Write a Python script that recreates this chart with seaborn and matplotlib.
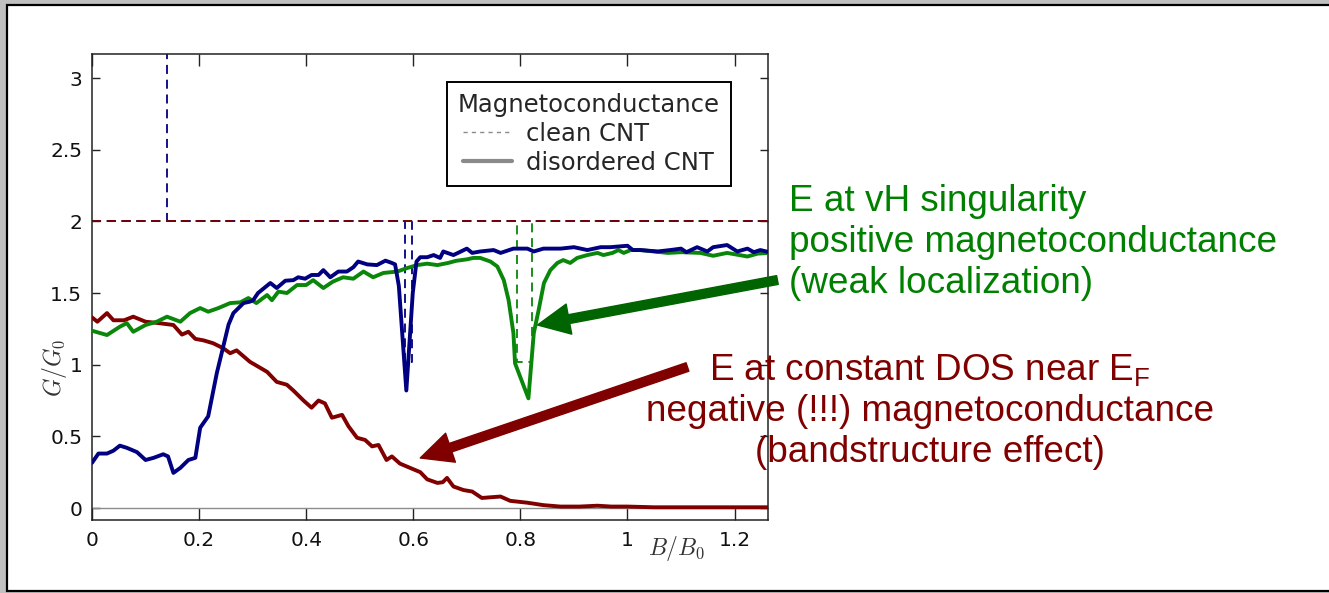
import matplotlib
matplotlib.use("Agg")
import matplotlib.pyplot as plt
from matplotlib.lines import Line2D
from matplotlib.patches import Rectangle
import seaborn as sns

# ---- data -------------------------------------------------------------
# clean nanotube (dashed): conductance in units of G0 versus B/B0
# (segment ids split a curve into separately drawn pieces)
clean_red_x = [0.0, 1.265]
clean_red_y = [2.0, 2.0]
clean_red_seg = [0, 0]
clean_blue_x = [0.0, 0.1396, 0.1396, 0.1396, 0.585, 0.585, 0.597, 0.597, 1.265]
clean_blue_y = [2.0, 2.0, 10.0, 2.0, 2.0, 1.02, 1.02, 2.0, 2.0]
clean_blue_seg = [0, 0, 0, 1, 1, 1, 1, 1, 1]
clean_green_x = [0.0, 0.793, 0.793, 0.822, 0.822, 1.265]
clean_green_y = [2.0, 2.0, 1.02, 1.02, 2.0, 2.0]
clean_green_seg = [0, 0, 0, 0, 0, 0]

# disordered nanotube (solid)
dis_blue_x = [0.000, 0.012, 0.028, 0.040, 0.052, 0.065, 0.084, 0.100, 0.115, 0.133,
              0.142, 0.152, 0.165, 0.180, 0.193, 0.202, 0.217, 0.233, 0.245, 0.255,
              0.264, 0.283, 0.295, 0.301, 0.310, 0.333, 0.345, 0.361, 0.376, 0.385,
              0.398, 0.410, 0.423, 0.432, 0.445, 0.460, 0.476, 0.488, 0.497, 0.514,
              0.532, 0.548, 0.560, 0.566, 0.573, 0.587, 0.599, 0.606, 0.613, 0.626,
              0.638, 0.650, 0.656, 0.675, 0.700, 0.710, 0.725, 0.750, 0.763, 0.787,
              0.813, 0.825, 0.843, 0.875, 0.900, 0.925, 0.950, 0.968, 1.000, 1.010,
              1.024, 1.056, 1.080, 1.100, 1.110, 1.130, 1.149, 1.160, 1.186, 1.205,
              1.224, 1.236, 1.248, 1.265]
dis_blue_y = [0.315, 0.38, 0.38, 0.40, 0.435, 0.42, 0.39, 0.335, 0.35, 0.375,
              0.36, 0.245, 0.28, 0.335, 0.35, 0.56, 0.64, 0.94, 1.125, 1.28,
              1.36, 1.43, 1.44, 1.45, 1.50, 1.57, 1.535, 1.586, 1.59, 1.61,
              1.60, 1.626, 1.626, 1.66, 1.61, 1.65, 1.65, 1.68, 1.72, 1.70,
              1.695, 1.726, 1.71, 1.70, 1.55, 0.82, 1.50, 1.72, 1.75, 1.75,
              1.765, 1.745, 1.79, 1.765, 1.81, 1.78, 1.79, 1.80, 1.78, 1.81,
              1.81, 1.79, 1.81, 1.81, 1.82, 1.80, 1.82, 1.82, 1.83, 1.80,
              1.80, 1.79, 1.80, 1.81, 1.785, 1.82, 1.79, 1.82, 1.835, 1.79,
              1.81, 1.785, 1.80, 1.785]

dis_green_x = [0.000, 0.028, 0.052, 0.065, 0.077, 0.100, 0.121, 0.140, 0.165, 0.183,
               0.202, 0.217, 0.236, 0.258, 0.277, 0.292, 0.307, 0.327, 0.336, 0.348,
               0.364, 0.383, 0.400, 0.413, 0.432, 0.450, 0.469, 0.488, 0.507, 0.525,
               0.544, 0.570, 0.589, 0.607, 0.626, 0.645, 0.665, 0.680, 0.700, 0.712,
               0.725, 0.744, 0.757, 0.769, 0.778, 0.787, 0.790, 0.815, 0.825, 0.834,
               0.844, 0.856, 0.869, 0.880, 0.893, 0.906, 0.925, 0.944, 0.955, 0.972,
               0.983, 0.993, 1.006, 1.024, 1.050, 1.075, 1.100, 1.136, 1.160, 1.186,
               1.224, 1.243, 1.265]
dis_green_y = [1.237, 1.207, 1.265, 1.29, 1.23, 1.277, 1.30, 1.335, 1.30, 1.36,
               1.395, 1.37, 1.395, 1.43, 1.435, 1.465, 1.43, 1.486, 1.45, 1.51,
               1.50, 1.556, 1.556, 1.59, 1.535, 1.58, 1.61, 1.60, 1.65, 1.61,
               1.64, 1.65, 1.675, 1.695, 1.705, 1.695, 1.71, 1.725, 1.735, 1.745,
               1.745, 1.72, 1.685, 1.59, 1.45, 1.22, 1.01, 0.765, 1.22, 1.38,
               1.57, 1.66, 1.71, 1.73, 1.71, 1.745, 1.765, 1.78, 1.765, 1.78,
               1.80, 1.78, 1.80, 1.80, 1.79, 1.78, 1.785, 1.78, 1.76, 1.78,
               1.755, 1.775, 1.78]

dis_red_x = [0.000, 0.010, 0.028, 0.040, 0.060, 0.077, 0.100, 0.125, 0.152, 0.168,
             0.180, 0.193, 0.208, 0.226, 0.245, 0.258, 0.270, 0.295, 0.327, 0.345,
             0.364, 0.376, 0.395, 0.410, 0.423, 0.435, 0.448, 0.467, 0.479, 0.495,
             0.510, 0.523, 0.535, 0.550, 0.560, 0.575, 0.594, 0.613, 0.626, 0.645,
             0.655, 0.663, 0.675, 0.694, 0.710, 0.728, 0.745, 0.763, 0.781, 0.813,
             0.843, 0.875, 0.910, 0.944, 0.970, 1.000, 1.050, 1.265]
dis_red_y = [1.33, 1.30, 1.36, 1.31, 1.31, 1.335, 1.30, 1.29, 1.277, 1.21,
             1.23, 1.18, 1.17, 1.15, 1.115, 1.08, 1.10, 1.02, 0.95, 0.88,
             0.86, 0.82, 0.75, 0.70, 0.75, 0.73, 0.63, 0.65, 0.57, 0.49,
             0.475, 0.43, 0.44, 0.335, 0.36, 0.31, 0.28, 0.25, 0.20, 0.175,
             0.18, 0.21, 0.15, 0.125, 0.115, 0.07, 0.075, 0.08, 0.05, 0.037,
             0.02, 0.01, 0.01, 0.016, 0.01, 0.01, 0.005, 0.005]

x_ticks = [0, 0.2, 0.4, 0.6, 0.8, 1.0, 1.2]
x_tick_labels = ["0", "0.2", "0.4", "0.6", "0.8", "1", "1.2"]
y_ticks = [0, 0.5, 1, 1.5, 2, 2.5, 3]
y_tick_labels = ["0", "0.5", "1", "1.5", "2", "2.5", "3"]

legend_title = "Magnetoconductance"
legend_labels = ["clean CNT", "disordered CNT"]

green_note = ["E at vH singularity", "positive magnetoconductance", "(weak localization)"]
red_note = [r"E at constant DOS near $\mathregular{E_F}$",
            "negative (!!!) magnetoconductance", "(bandstructure effect)"]

# ---- style -------------------------------------------------------------
sns.set_theme(style="ticks")
plt.rcParams["font.family"] = ["DejaVu Sans"]

NAVY = "#000080"
MAROON = "#800000"
GREEN = "#0a870a"
TXT_GREEN = "#008000"
ARROW_GREEN = "#006400"

W, H = 1329, 593
fig = plt.figure(figsize=(W / 100, H / 100), dpi=100, facecolor="#c0c0c0")

# white slide panel with a black frame, kept behind the axes
fig.patches.append(Rectangle((7 / W, 2 / H), 1.0, 586 / H, transform=fig.transFigure,
                             facecolor="white", edgecolor="black", linewidth=1.6,
                             zorder=-10))

ax = fig.add_axes([92 / W, 1 - 520 / H, 676 / W, 466 / H])
ax.set_zorder(1)
ax.set_facecolor("white")

# zero reference
ax.axhline(0, color="#8c8c8c", lw=1.0, zorder=1)

# clean tubes: thin dashed lines
dash = (0, (5, 3.2))
for xs, ys, seg, c in [(clean_green_x, clean_green_y, clean_green_seg, GREEN),
                       (clean_blue_x, clean_blue_y, clean_blue_seg, NAVY),
                       (clean_red_x, clean_red_y, clean_red_seg, MAROON)]:
    sns.lineplot(x=xs, y=ys, units=seg, ax=ax, color=c, lw=1.3, linestyle=dash,
                 sort=False, estimator=None, zorder=2)

# disordered tubes: thick solid lines
for xs, ys, c in [(dis_red_x, dis_red_y, MAROON),
                  (dis_green_x, dis_green_y, GREEN),
                  (dis_blue_x, dis_blue_y, NAVY)]:
    sns.lineplot(x=xs, y=ys, ax=ax, color=c, lw=2.8, sort=False,
                 estimator=None, zorder=3)

ax.set_xlim(0, 1.2624)
ax.set_ylim(-0.0837, 3.168)
ax.set_xticks(x_ticks)
ax.set_xticklabels(x_tick_labels)
ax.set_yticks(y_ticks)
ax.set_yticklabels(y_tick_labels)
ax.tick_params(axis="both", direction="in", top=True, right=True,
               width=1.0, color="#222222", labelsize=14.5, labelcolor="#111111")
ax.tick_params(axis="x", length=8.5, pad=8)
ax.tick_params(axis="y", length=5.5, pad=7)
for s in ax.spines.values():
    s.set_linewidth(1.1)
    s.set_color("#222222")

ax.set_xlabel(r"$B/B_0$", fontsize=17, math_fontfamily="cm", color="#333333")
ax.xaxis.set_label_coords(0.865, -0.03)
ax.set_ylabel(r"$G/G_0$", fontsize=17, math_fontfamily="cm", color="#333333")
ax.yaxis.set_label_coords(-0.034, 0.326)

handles = [Line2D([], [], color="#8a8a8a", lw=1.0, linestyle=(0, (3, 3))),
           Line2D([], [], color="#8a8a8a", lw=3.0)]
leg = ax.legend(handles, legend_labels, title=legend_title, loc="upper left",
                bbox_to_anchor=(0.525, 0.94), borderaxespad=0, fontsize=17.5,
                title_fontsize=17.5, frameon=True, fancybox=False,
                edgecolor="black", framealpha=1, handlelength=2.0,
                handletextpad=0.6, labelspacing=0.2, borderpad=0.45)
leg.get_frame().set_linewidth(1.4)
leg.set_zorder(5)

# explanatory notes with arrows
note_font = dict(family=["Liberation Sans", "DejaVu Sans"], fontsize=26.6)
for i, line in enumerate(green_note):
    fig.text(789 / W, 1 - (211 + 41 * i) / H, line, color=TXT_GREEN,
             ha="left", va="baseline", zorder=6, **note_font)
for i, line in enumerate(red_note):
    fig.text(930 / W, 1 - (380 + 41 * i) / H, line, color=MAROON,
             ha="center", va="baseline", zorder=6, **note_font)

ax.annotate("", xy=(0.832, 1.277), xytext=(1.280, 1.591),
            arrowprops=dict(arrowstyle="simple,head_length=1.15,head_width=1.1,tail_width=0.32",
                            color=ARROW_GREEN, mutation_scale=20, shrinkA=0, shrinkB=0),
            annotation_clip=False, zorder=6)
ax.annotate("", xy=(0.613, 0.349), xytext=(1.112, 0.984),
            arrowprops=dict(arrowstyle="simple,head_length=1.15,head_width=1.1,tail_width=0.32",
                            color=MAROON, mutation_scale=20, shrinkA=0, shrinkB=0),
            annotation_clip=False, zorder=6)

fig.savefig("out.png", dpi=100, facecolor=fig.get_facecolor())
